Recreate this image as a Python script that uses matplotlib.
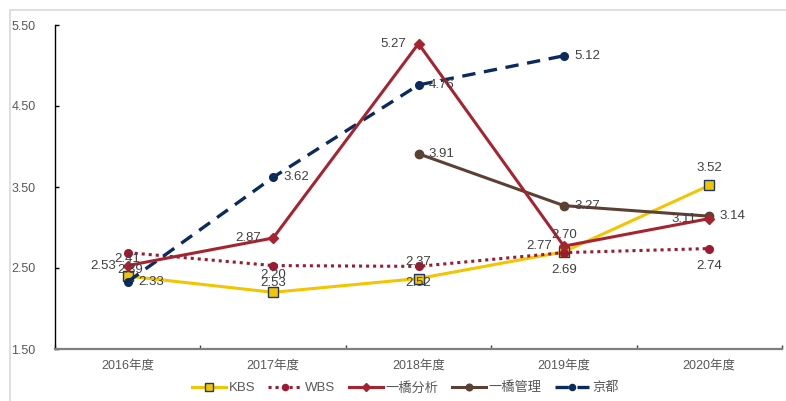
import matplotlib.pyplot as plt
from matplotlib.patches import Rectangle

plt.rcParams['font.family'] = ['Liberation Sans', 'Noto Sans CJK SC', 'DejaVu Sans']

years = ['2016年度', '2017年度', '2018年度', '2019年度', '2020年度']

kbs = [2.40, 2.20, 2.37, 2.70, 3.52]
kbs_labels = ['2.39', '2.20', '2.37', '2.70', '3.52']
wbs = [2.69, 2.53, 2.52, 2.69, 2.74]
wbs_labels = ['2.41', '2.53', '2.52', '2.69', '2.74']
hb_bunseki = [2.53, 2.87, 5.27, 2.77, 3.11]
hb_kanri = [3.91, 3.27, 3.14]
kyoto = [2.33, 3.62, 4.76, 5.12]

x = list(range(len(years)))
label_color = '#404040'

fig = plt.figure(figsize=(7.86, 4.01), dpi=100)
ax = fig.add_axes([55 / 786, 1 - 349 / 401, 727 / 786, 324 / 401])

# light border around the picture
fig.patches.append(Rectangle((10 / 786, -0.5), 2, 1.5 - 10 / 401, transform=fig.transFigure,
                             fill=False, edgecolor='#d9d9d9', linewidth=1.2, zorder=0))

ax.plot(x, kbs, color='#F2C500', linewidth=2.2, marker='s', markersize=6.5,
        markerfacecolor='#F2C500', markeredgecolor='#1F3864', markeredgewidth=1.0,
        label='KBS', zorder=3)
ax.plot(x, wbs, color='#9B1B30', linewidth=2.2, linestyle=(0, (1, 1.3)), marker='o',
        markersize=5.5, label='WBS', zorder=3)
ax.plot(x, hb_bunseki, color='#A6242F', linewidth=2.2, marker='D', markersize=5,
        label='一橋分析', zorder=4)
ax.plot(x[2:], hb_kanri, color='#5C4033', linewidth=2.2, marker='o', markersize=6,
        label='一橋管理', zorder=3)
ax.plot(x[:4], kyoto, color='#0B2A5E', linewidth=2.4, linestyle=(0, (4, 2.6)), marker='o',
        markersize=5.5, label='京都', zorder=3)

# data labels (offsets in pixels, converted to points)
def put(xi, yi, txt, dx, dy):
    ax.annotate(txt, (xi, yi), xytext=(dx * 0.72, dy * 0.72), textcoords='offset points',
                ha='center', va='center', fontsize=9.5, color=label_color, zorder=5)

for i, (v, t) in enumerate(zip(kbs, kbs_labels)):
    put(i, v, t, 2 if i == 0 else 0, 6 if i == 0 else 17)
for i, (v, t) in enumerate(zip(wbs, wbs_labels)):
    put(i, v, t, 0, -6 if i == 0 else -17)
for i, v in enumerate(hb_bunseki):
    put(i, v, f'{v:.2f}', -25, 0)
for i, v in enumerate(hb_kanri):
    put(i + 2, v, f'{v:.2f}', 23, 0)
for i, v in enumerate(kyoto):
    put(i, v, f'{v:.2f}', 23, 0)

ax.set_xlim(-0.5, 4.5)
ax.set_ylim(1.5, 5.5)
ax.set_yticks([1.5, 2.5, 3.5, 4.5, 5.5])
ax.set_yticklabels(['1.50', '2.50', '3.50', '4.50', '5.50'])
ax.set_xticks(x)
ax.set_xticklabels(years)
ax.set_xticks([i - 0.5 for i in range(len(years) + 1)], minor=True)

ax.tick_params(axis='y', direction='in', length=3, width=1, pad=14, labelsize=9,
               labelcolor='#595959')
ax.tick_params(axis='x', which='major', length=0, pad=8, labelsize=9, labelcolor='#595959')
ax.tick_params(axis='x', which='minor', direction='in', length=3, width=1, color='#404040')

for s in ['top', 'right']:
    ax.spines[s].set_visible(False)
ax.spines['left'].set_color('#000000')
ax.spines['left'].set_linewidth(1)
ax.spines['bottom'].set_color('#7f7f7f')
ax.spines['bottom'].set_linewidth(1.6)

fig.legend(loc='center', bbox_to_anchor=(405 / 786, 1 - 388 / 401), ncol=5, frameon=False,
           fontsize=9.5, handlelength=2.6, columnspacing=1.0, handletextpad=0.2,
           markerscale=0.8, labelcolor='#595959')

fig.savefig('out.png', dpi=100)
